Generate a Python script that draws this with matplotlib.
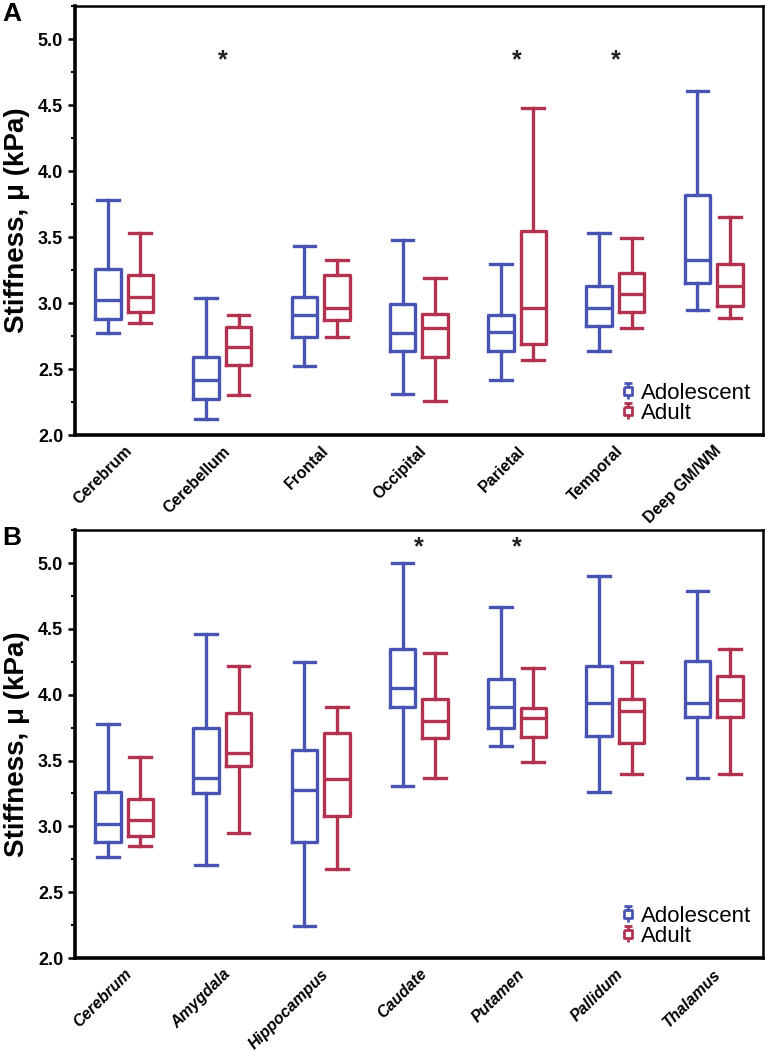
import matplotlib
matplotlib.use("Agg")
import matplotlib.pyplot as plt
from matplotlib.lines import Line2D
from matplotlib.path import Path
from matplotlib.ticker import MultipleLocator

plt.rcParams['font.family'] = ['Liberation Sans', 'DejaVu Sans']

BLUE = '#4854b4'
RED = '#b2324f'

# Panel A: cortical / lobar regions
regions_a = ["Cerebrum", "Cerebellum", "Frontal", "Occipital", "Parietal", "Temporal", "Deep GM/WM"]
# each row: (whislo, q1, med, q3, whishi)
adol_a = [
    (2.77, 2.88, 3.02, 3.26, 3.78),
    (2.12, 2.27, 2.42, 2.59, 3.04),
    (2.52, 2.74, 2.91, 3.05, 3.43),
    (2.31, 2.64, 2.77, 2.99, 3.48),
    (2.42, 2.64, 2.78, 2.91, 3.30),
    (2.64, 2.83, 2.96, 3.13, 3.53),
    (2.95, 3.15, 3.33, 3.82, 4.61),
]
adult_a = [
    (2.85, 2.93, 3.05, 3.21, 3.53),
    (2.30, 2.53, 2.67, 2.82, 2.91),
    (2.74, 2.87, 2.96, 3.21, 3.33),
    (2.26, 2.59, 2.81, 2.92, 3.19),
    (2.57, 2.69, 2.96, 3.55, 4.48),
    (2.81, 2.93, 3.07, 3.23, 3.49),
    (2.89, 2.98, 3.13, 3.30, 3.65),
]
signif_a = ["Cerebellum", "Parietal", "Temporal"]

# Panel B: subcortical regions
regions_b = ["Cerebrum", "Amygdala", "Hippocampus", "Caudate", "Putamen", "Pallidum", "Thalamus"]
adol_b = [
    (2.77, 2.88, 3.02, 3.26, 3.78),
    (2.71, 3.25, 3.37, 3.75, 4.46),
    (2.24, 2.88, 3.28, 3.58, 4.25),
    (3.31, 3.91, 4.05, 4.35, 5.00),
    (3.61, 3.75, 3.91, 4.12, 4.67),
    (3.26, 3.69, 3.94, 4.22, 4.90),
    (3.37, 3.83, 3.94, 4.26, 4.79),
]
adult_b = [
    (2.85, 2.93, 3.05, 3.21, 3.53),
    (2.95, 3.46, 3.56, 3.86, 4.22),
    (2.68, 3.08, 3.36, 3.71, 3.91),
    (3.37, 3.67, 3.80, 3.97, 4.32),
    (3.49, 3.68, 3.82, 3.90, 4.20),
    (3.40, 3.63, 3.88, 3.97, 4.25),
    (3.40, 3.83, 3.96, 4.14, 4.35),
]
signif_b = ["Caudate", "Putamen"]

# little boxplot glyph for the legend
icon = Path([(-0.45, 0.9), (0.45, 0.9), (0, 0.9), (0, 0.45), (-0.45, 0.45), (0.45, 0.45),
             (0.45, -0.45), (-0.45, -0.45), (-0.45, 0.45), (0, -0.45), (0, -0.9)],
            [Path.MOVETO, Path.LINETO, Path.MOVETO, Path.LINETO, Path.MOVETO, Path.LINETO,
             Path.LINETO, Path.LINETO, Path.LINETO, Path.MOVETO, Path.LINETO])


def stats(rows):
    return [dict(whislo=r[0], q1=r[1], med=r[2], q3=r[3], whishi=r[4]) for r in rows]


def panel(ax, regions, adol, adult, signif, star_y, italic, letter):
    pos = list(range(len(regions)))
    for rows, col, off in [(adol, BLUE, -0.165), (adult, RED, 0.165)]:
        ax.bxp(stats(rows), positions=[p + off for p in pos], widths=0.26, capwidths=0.22,
               showfliers=False, manage_ticks=False,
               boxprops=dict(color=col, lw=2.4), medianprops=dict(color=col, lw=2.4),
               whiskerprops=dict(color=col, lw=2.4), capprops=dict(color=col, lw=2.4))
    for name in signif:
        ax.text(regions.index(name), star_y, '*', ha='center', va='center',
                fontsize=18, fontweight='bold', color='#222222')
    ax.set_xlim(-0.5, len(regions) - 0.5)
    ax.set_ylim(2.0, 5.25)
    ax.yaxis.set_major_locator(MultipleLocator(0.5))
    ax.yaxis.set_minor_locator(MultipleLocator(0.25))
    ax.set_yticks([2.0, 2.5, 3.0, 3.5, 4.0, 4.5, 5.0])
    ax.set_yticklabels(['2.0', '2.5', '3.0', '3.5', '4.0', '4.5', '5.0'],
                       fontsize=13, fontweight='bold')
    ax.tick_params(axis='y', which='major', length=5, width=1.8, direction='out')
    ax.tick_params(axis='y', which='minor', length=3, width=1.5)
    ax.set_xticks(pos)
    ax.set_xticklabels(regions, rotation=45, ha='right', rotation_mode='anchor',
                       fontsize=11.5, fontweight='bold',
                       fontstyle='italic' if italic else 'normal')
    ax.tick_params(axis='x', length=0, pad=6)
    for s in ax.spines.values():
        s.set_linewidth(1.8)
    ax.spines['left'].set_linewidth(2.6)
    ax.spines['bottom'].set_linewidth(2.6)
    ax.set_ylabel('Stiffness, μ (kPa)', fontsize=20, fontweight='bold', labelpad=6)
    handles = [Line2D([], [], ls='none', marker=icon, markersize=11, mew=2.0,
                      color=BLUE, fillstyle='none'),
               Line2D([], [], ls='none', marker=icon, markersize=11, mew=2.0,
                      color=RED, fillstyle='none')]
    ax.legend(handles, ['Adolescent', 'Adult'], loc='lower right', frameon=False,
              fontsize=16, handletextpad=0.2, labelspacing=-0.05, handlelength=0.8,
              borderaxespad=0.3, borderpad=0.2)
    ax.figure.text(0.003, ax.get_position().y1 + 0.004, letter, fontsize=19,
                   fontweight='bold', va='top', ha='left')


fig = plt.figure(figsize=(7.65, 10.5), dpi=100)
ax_a = fig.add_axes([0.098, 0.5857, 0.899, 0.4083])
ax_b = fig.add_axes([0.098, 0.0876, 0.899, 0.4074])

panel(ax_a, regions_a, adol_a, adult_a, signif_a, 4.84, False, 'A')
panel(ax_b, regions_b, adol_b, adult_b, signif_b, 5.12, True, 'B')

fig.savefig('out.png', dpi=100)
